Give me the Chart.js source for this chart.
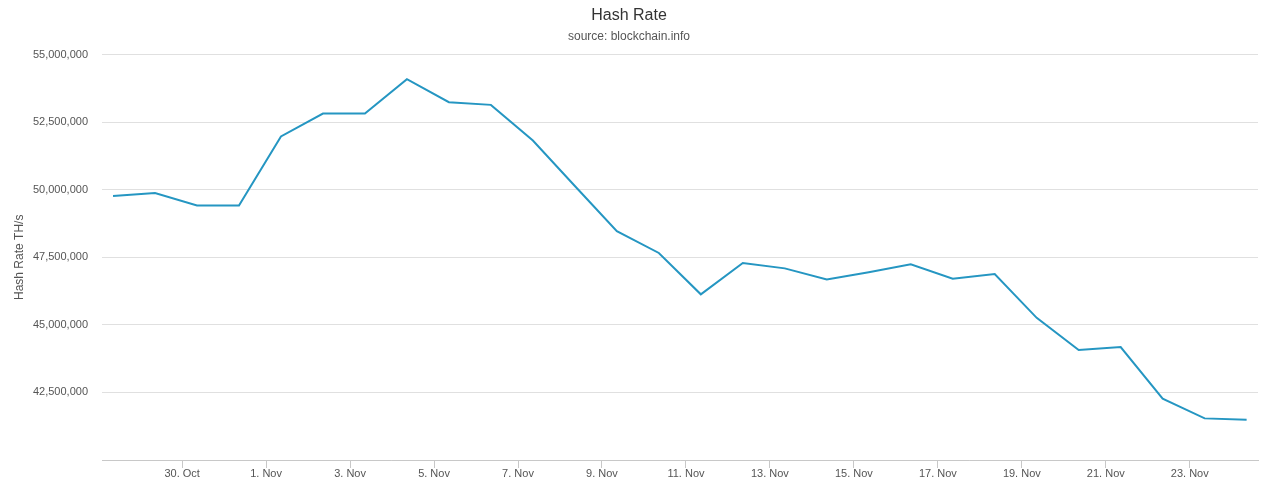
<!DOCTYPE html>
<html>
<head>
<meta charset="utf-8">
<script src="https://cdn.jsdelivr.net/npm/chart.js@4/dist/chart.umd.min.js"></script>
<style>
  html, body { margin: 0; padding: 0; background: #fff; }
  #wrap { width: 1280px; height: 496px; }
</style>
</head>
<body>
<div id="wrap"><canvas id="myCanvas" width="1280" height="496"></canvas></div>
<script>
// daily samples (UTC)
var sampleTimes = [
  '2018-10-28T08:30Z', '2018-10-29T08:30Z', '2018-10-30T08:30Z', '2018-10-31T08:30Z',
  '2018-11-01T08:30Z', '2018-11-02T08:30Z', '2018-11-03T08:30Z', '2018-11-04T08:30Z',
  '2018-11-05T08:30Z', '2018-11-06T08:30Z', '2018-11-07T08:30Z', '2018-11-08T08:30Z',
  '2018-11-09T08:30Z', '2018-11-10T08:30Z', '2018-11-11T08:30Z', '2018-11-12T08:30Z',
  '2018-11-13T08:30Z', '2018-11-14T08:30Z', '2018-11-15T08:30Z', '2018-11-16T08:30Z',
  '2018-11-17T08:30Z', '2018-11-18T08:30Z', '2018-11-19T08:30Z', '2018-11-20T08:30Z',
  '2018-11-21T08:30Z', '2018-11-22T08:30Z', '2018-11-23T08:30Z', '2018-11-24T08:30Z'
];
var hashRate = [
  49770000, 49880000, 49420000, 49420000,
  51970000, 52820000, 52820000, 54090000,
  53240000, 53140000, 51820000, 50140000,
  48470000, 47660000, 46130000, 47290000,
  47090000, 46680000, 46950000, 47240000,
  46710000, 46880000, 45260000, 44070000,
  44180000, 42270000, 41540000, 41490000
];
var xTickDates = [
  '2018-10-30', '2018-11-01', '2018-11-03', '2018-11-05', '2018-11-07',
  '2018-11-09', '2018-11-11', '2018-11-13', '2018-11-15', '2018-11-17',
  '2018-11-19', '2018-11-21', '2018-11-23'
];
var xTickLabels = [
  '30. Oct', '1. Nov', '3. Nov', '5. Nov', '7. Nov',
  '9. Nov', '11. Nov', '13. Nov', '15. Nov', '17. Nov',
  '19. Nov', '21. Nov', '23. Nov'
];
var yTicks = [40000000, 42500000, 45000000, 47500000, 50000000, 52500000, 55000000];

var HOUR = 3600 * 1000;
var FONT = "'Liberation Sans', Arial, Helvetica, sans-serif";

var points = sampleTimes.map(function (t, i) {
  return { x: Date.parse(t), y: hashRate[i] };
});
var tickValues = xTickDates.map(function (d) { return Date.parse(d + 'T00:00Z'); });

var ctx = document.getElementById('myCanvas').getContext('2d');
var chart = new Chart(ctx, {
  type: 'line',
  data: {
    datasets: [{
      label: 'Hash Rate',
      data: points,
      borderColor: '#2596c2',
      borderWidth: 2,
      pointRadius: 0,
      tension: 0,
      fill: false
    }]
  },
  options: {
    responsive: false,
    animation: false,
    layout: { padding: { left: 0, right: 22, top: 0, bottom: 0 } },
    plugins: {
      legend: { display: false },
      tooltip: { enabled: false },
      title: {
        display: true,
        text: 'Hash Rate',
        color: '#333',
        font: { family: FONT, size: 16, weight: 'normal' },
        padding: { top: 6, bottom: 4 }
      },
      subtitle: {
        display: true,
        text: 'source: blockchain.info',
        color: '#555',
        font: { family: FONT, size: 12 },
        padding: { top: 0, bottom: 11 }
      }
    },
    scales: {
      x: {
        type: 'linear',
        min: points[0].x - 6.3 * HOUR,
        max: points[points.length - 1].x + 6.5 * HOUR,
        afterBuildTicks: function (scale) {
          scale.ticks = tickValues.map(function (v) { return { value: v }; });
        },
        afterFit: function (scale) { scale.height = 36; },
        grid: {
          drawOnChartArea: false,
          drawTicks: true,
          tickLength: 8,
          tickColor: '#c8c8c8',
          lineWidth: 1
        },
        border: { display: true, color: '#c8c8c8', width: 1 },
        ticks: {
          autoSkip: false,
          maxRotation: 0,
          padding: -1,
          color: '#555',
          font: { family: FONT, size: 11 },
          callback: function (value) {
            var i = tickValues.indexOf(value);
            return i >= 0 ? xTickLabels[i] : '';
          }
        }
      },
      y: {
        min: 40000000,
        max: 55000000,
        afterBuildTicks: function (scale) {
          scale.ticks = yTicks.map(function (v) { return { value: v }; });
        },
        afterFit: function (scale) { scale.width = 102; },
        grid: { color: '#e0e0e0', drawTicks: false, lineWidth: 1 },
        border: { display: false },
        ticks: {
          padding: 14,
          color: '#555',
          font: { family: FONT, size: 11 },
          callback: function (value) {
            if (value === yTicks[0]) return '';
            return value.toLocaleString('en-US');
          }
        },
        title: {
          display: true,
          text: 'Hash Rate TH/s',
          color: '#555',
          font: { family: FONT, size: 12 },
          padding: { top: 12, bottom: 0 }
        }
      }
    }
  }
});
</script>
</body>
</html>
